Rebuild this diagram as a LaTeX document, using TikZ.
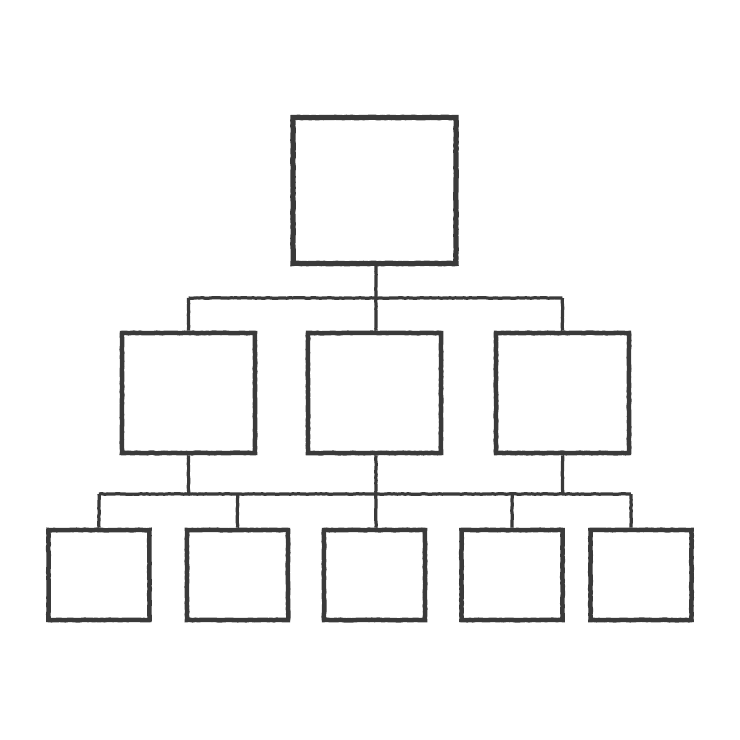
\documentclass[tikz,border=0pt]{standalone}
\usepackage{xcolor}
\usepackage{tikz}
\usetikzlibrary{calc,decorations.pathmorphing}
\definecolor{chalkgray}{RGB}{58,58,58}

\tikzset{
  chalk/.style={chalkgray,decorate,decoration={random steps,segment length=4pt,amplitude=0.45pt}},
  topbox/.style={draw,chalk,line width=7.5pt,minimum width=8.15cm,minimum height=7.3cm,inner sep=0pt},
  midbox/.style={draw,chalk,line width=6.5pt,minimum width=6.65cm,minimum height=6cm,inner sep=0pt},
  lowbox/.style={draw,chalk,line width=6.5pt,minimum width=5.05cm,minimum height=4.5cm,inner sep=0pt},
  link/.style={chalk,line width=4.6pt}
}

\begin{document}
\begin{tikzpicture}[x=0.05cm,y=-0.05cm]
                \useasboundingbox[fill=white] (0,0) rectangle (740,740);
                % top box
                \node[topbox] (head) at (374.5,190.5) {};
                % second row
                \node[midbox] (midA) at (188.5,393) {};
                \node[midbox] (midB) at (374.5,393) {};
                \node[midbox] (midC) at (562.5,393) {};
                % third row
                \node[lowbox] (lowA) at (99,575) {};
                \node[lowbox] (lowB) at (237.5,575) {};
                \node[lowbox] (lowC) at (374.5,575) {};
                \node[lowbox] (lowD) at (512,575) {};
                \node[lowbox] (lowE) at (641,575) {};
                % bus lines
                \coordinate (busTop) at (376,298);
                \coordinate (busLow) at (376,494);
                \coordinate (dropE) at ($(lowE.north)+(-10,0)$);
                % head to second row
                \draw[link] (head.south -| busTop) -- (busTop);
                \draw[link] (busTop -| midA) -- (busTop -| midC);
                \draw[link] (busTop -| midA) -- (midA.north);
                \draw[link] (busTop) -- (midB.north -| busTop);
                \draw[link] (busTop -| midC) -- (midC.north);
                % second row to third row
                \draw[link] (midA.south) -- (busLow -| midA);
                \draw[link] (midB.south -| busLow) -- (busLow);
                \draw[link] (midC.south) -- (busLow -| midC);
                \draw[link] (busLow -| lowA) -- (busLow -| dropE);
                \draw[link] (busLow -| lowA) -- (lowA.north);
                \draw[link] (busLow -| lowB) -- (lowB.north);
                \draw[link] (busLow) -- (lowC.north -| busLow);
                \draw[link] (busLow -| lowD) -- (lowD.north);
                \draw[link] (busLow -| dropE) -- (dropE);
\end{tikzpicture}
\end{document}
